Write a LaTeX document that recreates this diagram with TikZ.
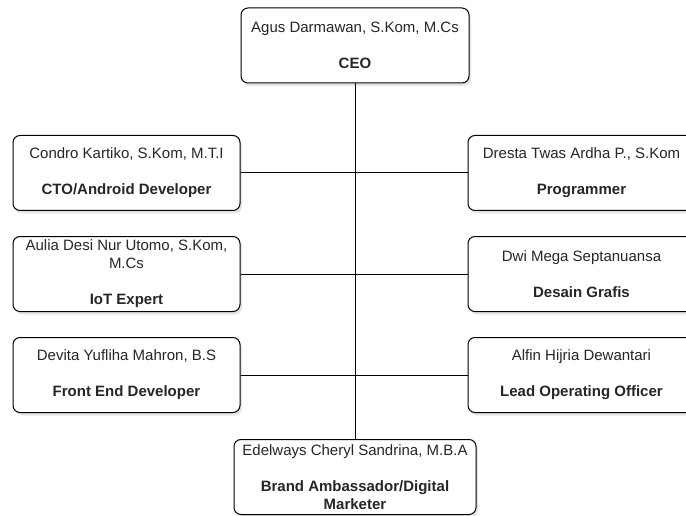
\documentclass[tikz,border=0pt]{standalone}
\usepackage{fontspec}
\setmainfont{Liberation Sans}
\usetikzlibrary{shadows}
\begin{document}
\begin{tikzpicture}[x=1pt,y=-1pt,
  member/.style={draw, line width=1pt, rounded corners=7pt, fill=white,
    drop shadow={shadow xshift=2pt, shadow yshift=-3pt, opacity=0.2},
    minimum width=227pt, minimum height=75pt, align=center, text=black!85,
    inner sep=2pt, font=\fontsize{15}{18}\selectfont},
  link/.style={line width=1pt}]
\useasboundingbox (0,0) rectangle (686,516);

\node[member, minimum width=228pt] (ceo) at (355,45.5) {Agus Darmawan, S.Kom, M.Cs\\[18pt]\textbf{CEO}};

\node[member] (cto) at (126.5,173) {Condro Kartiko, S.Kom, M.T.I\\[18pt]\textbf{CTO/Android Developer}};
\node[member] (prog) at (581.5,173) {Dresta Twas Ardha P., S.Kom\\[18pt]\textbf{Programmer}};

\node[member] (iot) at (126.5,274) {Aulia Desi Nur Utomo, S.Kom,\\M.Cs\\[18pt]\textbf{IoT Expert}};
\node[member] (desain) at (581.5,274) {Dwi Mega Septanuansa\\[18pt]\textbf{Desain Grafis}};

\node[member] (fe) at (126.5,375) {Devita Yufliha Mahron, B.S\\[18pt]\textbf{Front End Developer}};
\node[member] (loo) at (581.5,375) {Alfin Hijria Dewantari\\[18pt]\textbf{Lead Operating Officer}};

\node[member, minimum width=242pt] (brand) at (355,477) {Edelways Cheryl Sandrina, M.B.A\\[18pt]\textbf{Brand Ambassador/Digital}\\\textbf{Marketer}};

% connectors
\draw[link] (ceo.south) -- (brand.north);
\draw[link] (cto.east) -- (prog.west);
\draw[link] (iot.east) -- (desain.west);
\draw[link] (fe.east) -- (loo.west);
\end{tikzpicture}
\end{document}
